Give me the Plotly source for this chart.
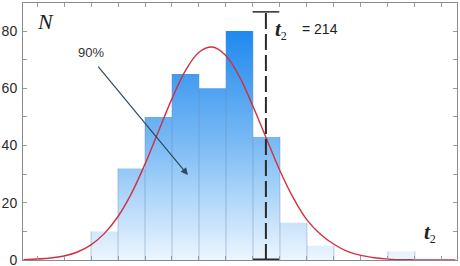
import plotly.graph_objects as go

# ---- data (x in bin units: bin i spans [i, i+1]) ----
BIN_EDGES = [0, 1, 2, 3, 4, 5, 6, 7, 8, 9, 10, 11, 12]
COUNTS = [10, 32, 50, 65, 60, 80, 43, 13, 5, 0, 0, 3]

CURVE_X = [-2.5, -1.5, -1.0, -0.5, 0.0, 0.5, 1.0, 1.5, 2.0, 2.5, 3.0, 3.5, 4.0, 4.5,
           5.0, 5.5, 6.0, 6.5, 7.0, 7.5, 8.0, 8.5, 9.0, 9.5, 10.0, 10.5, 11.0, 12.0, 13.5]
CURVE_Y = [0.1, 0.7, 1.4, 2.8, 5.3, 9.3, 15.2, 23.3, 33.5, 45.0, 56.4, 66.2, 72.6, 74.4,
           71.4, 64.1, 53.7, 42.4, 31.2, 21.6, 14.0, 9.0, 5.5, 3.0, 1.6, 0.8, 0.3, 0.05, 0.0]

T2_POS = 6.48      # position of t2 = 214 marker
T2_TOP = 86.7
T2_LABEL = "214"

Y_TICKS = [0, 20, 40, 60, 80]

# ---- build histogram outline from data ----
step_x = list(BIN_EDGES)
step_y = COUNTS + [COUNTS[-1]]

edge_x, edge_y = [], []
for i, e in enumerate(BIN_EDGES):
    left = COUNTS[i - 1] if i > 0 else 0
    right = COUNTS[i] if i < len(COUNTS) else 0
    h = max(left, right)
    if h > 0:
        edge_x += [e, e, None]
        edge_y += [0, h, None]

fig = go.Figure()

fig.add_trace(go.Scatter(
    x=step_x, y=step_y, mode="lines", line=dict(shape="hv", width=0, color="rgba(0,0,0,0)"),
    fill="tozeroy",
    fillgradient=dict(type="vertical", start=0, stop=82,
                      colorscale=[[0, "rgb(236,246,254)"], [0.5, "rgb(122,186,244)"],
                                  [1, "rgb(26,134,238)"]]),
    hoverinfo="skip", showlegend=False))

fig.add_trace(go.Scatter(
    x=edge_x, y=edge_y, mode="lines",
    line=dict(color="rgba(105,140,180,0.45)", width=1),
    hoverinfo="skip", showlegend=False))

fig.add_trace(go.Scatter(
    x=CURVE_X, y=CURVE_Y, mode="lines", line=dict(color="rgb(208,48,66)", width=1.4, shape="spline"),
    hoverinfo="skip", showlegend=False))

# dashed marker line
fig.add_trace(go.Scatter(
    x=[T2_POS, T2_POS], y=[0, T2_TOP], mode="lines",
    line=dict(color="#2a2a2a", width=2, dash="16px,5px"),
    hoverinfo="skip", showlegend=False))
fig.add_trace(go.Scatter(
    x=[T2_POS], y=[T2_TOP], mode="markers",
    marker=dict(symbol="line-ew", size=19, line=dict(color="#2a2a2a", width=1.5)),
    hoverinfo="skip", showlegend=False))
fig.add_trace(go.Scatter(
    x=[T2_POS], y=[0], mode="markers",
    marker=dict(symbol="line-ew", size=19, line=dict(color="#2a2a2a", width=3)),
    hoverinfo="skip", showlegend=False))

axis_common = dict(showline=True, linecolor="#8a8a8a", linewidth=1, mirror="ticks",
                   ticks="inside", ticklen=4, tickcolor="#9a9a9a", showgrid=False,
                   zeroline=False, automargin=False)

fig.update_xaxes(range=[-2.52, 13.56], tick0=0, dtick=1, showticklabels=False, **axis_common)
fig.update_yaxes(range=[0, 89.8], tickvals=Y_TICKS, ticktext=[str(v) for v in Y_TICKS],
                 tickfont=dict(family="Liberation Sans, Arial", size=14, color="#2a2a2a"),
                 minor=dict(dtick=10, ticks="inside", ticklen=4, tickcolor="#9a9a9a"),
                 ticklabelstandoff=2, ticklabeloverflow="allow",
                 **axis_common)

sub2 = "<sub><span style='font-size:12px'>2</span></sub>"
annotations = [
    dict(x=-1.67, y=83.2, text="<i>N</i>", showarrow=False,
         font=dict(family="Liberation Serif", size=22, color="#222")),
    dict(x=0.0, y=72.6, text="90%", showarrow=False,
         font=dict(family="Liberation Sans, Arial", size=13, color="#333")),
    dict(x=3.59, y=29.7, ax=0.22, ay=68.1, axref="x", ayref="y", text="", showarrow=True,
         arrowhead=2, arrowsize=1.2, arrowwidth=1.2, arrowcolor="#2e4a5c"),
    dict(x=6.75, y=80.4, xanchor="left", text="<b><i>t</i></b>" + sub2, showarrow=False,
         font=dict(family="Liberation Serif", size=21, color="#222")),
    dict(x=7.75, y=80.6, xanchor="left", text="= " + T2_LABEL, showarrow=False,
         font=dict(family="Liberation Sans, Arial", size=14, color="#222")),
    dict(x=12.55, y=9.6, text="<b><i>t</i></b>" + sub2, showarrow=False,
         font=dict(family="Liberation Serif", size=21, color="#222")),
]

fig.update_layout(
    width=460, height=266,
    margin=dict(l=23, r=3, t=3, b=6),
    paper_bgcolor="white", plot_bgcolor="white",
    annotations=annotations,
    showlegend=False,
)

fig.write_html("out.html", config={"displayModeBar": False},
               post_script="document.body.style.margin='0';")
